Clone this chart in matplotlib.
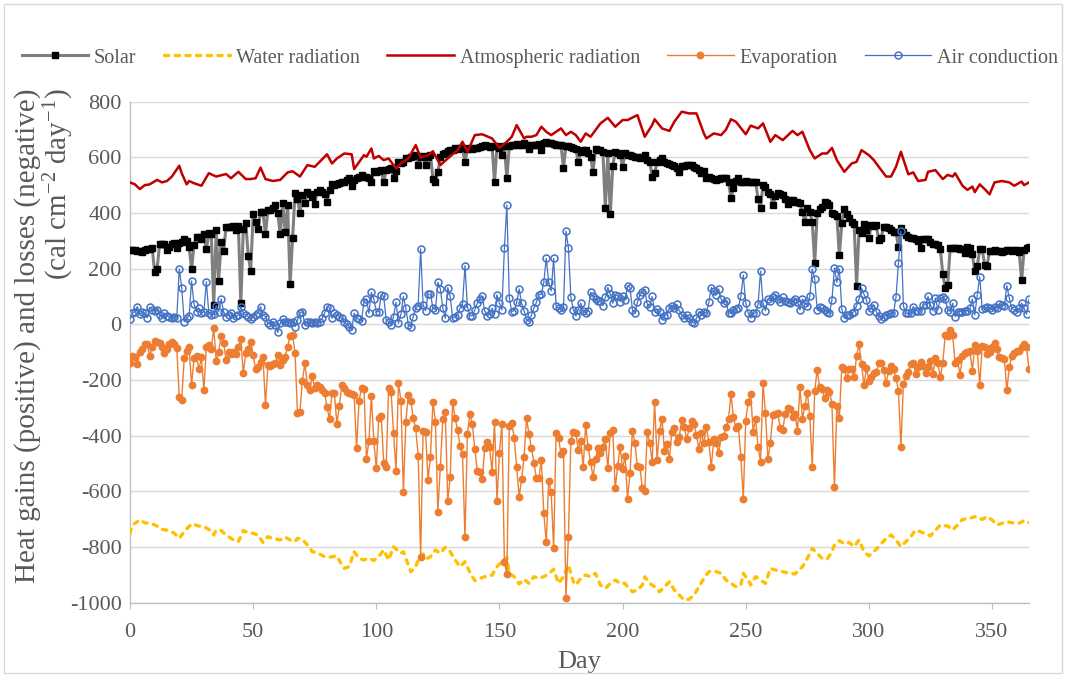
import numpy as np
import matplotlib
matplotlib.use("Agg")
import matplotlib.pyplot as plt
from matplotlib.patches import Rectangle

# ---------------- data ----------------
solar = [
    267, 266, 266, 265, 264, 261, 268, 270, 272, 275,
    189, 199, 287, 289, 289, 267, 279, 287, 291, 275,
    291, 297, 305, 299, 279, 199, 285, 315, 315, 307,
    323, 270, 327, 323, 69, 339, 157, 297, 262, 349,
    349, 349, 355, 339, 355, 76, 343, 365, 247, 193,
    395, 367, 343, 405, 402, 323, 411, 411, 419, 429,
    399, 323, 435, 333, 429, 145, 311, 471, 450, 399,
    465, 435, 477, 468, 459, 431, 477, 483, 475, 467,
    438, 483, 503, 501, 505, 507, 510, 512, 519, 527,
    498, 520, 525, 530, 537, 531, 528, 525, 513, 551,
    549, 552, 554, 510, 554, 558, 563, 527, 551, 584,
    580, 584, 596, 599, 602, 605, 608, 572, 600, 605,
    572, 602, 610, 522, 510, 546, 600, 611, 615, 623,
    625, 628, 632, 630, 635, 633, 584, 630, 632, 630,
    632, 635, 638, 640, 644, 640, 638, 640, 513, 641,
    635, 608, 640, 525, 640, 644, 645, 647, 645, 644,
    650, 645, 630, 644, 645, 646, 647, 626, 650, 656,
    652, 650, 648, 644, 645, 644, 563, 640, 641, 636,
    632, 630, 584, 620, 626, 626, 615, 602, 549, 630,
    628, 626, 620, 417, 614, 395, 570, 620, 615, 608,
    566, 614, 610, 608, 605, 602, 600, 599, 603, 608,
    590, 585, 531, 543, 584, 590, 596, 585, 578, 575,
    572, 568, 563, 546, 569, 570, 572, 571, 572, 565,
    560, 554, 543, 551, 527, 530, 525, 522, 519, 522,
    525, 526, 527, 510, 455, 489, 515, 527, 512, 510,
    515, 512, 510, 512, 513, 450, 417, 501, 495, 477,
    470, 429, 460, 471, 468, 465, 450, 431, 447, 445,
    441, 438, 435, 402, 369, 417, 402, 369, 219, 399,
    415, 423, 441, 435, 429, 399, 395, 390, 249, 363,
    414, 395, 383, 369, 360, 139, 340, 327, 360, 340,
    311, 357, 355, 357, 303, 311, 351, 348, 345, 340,
    333, 330, 279, 345, 330, 321, 315, 311, 309, 307,
    300, 275, 307, 307, 307, 295, 287, 287, 285, 271,
    180, 132, 141, 275, 275, 274, 273, 272, 271, 255,
    279, 275, 251, 191, 210, 269, 271, 213, 210, 265,
    265, 266, 265, 263, 261, 265, 267, 266, 265, 266,
    267, 261, 159, 267, 275, 279,
]

air = [
    19, 40, 46, 64, 36, 46, 40, 24, 61, 52,
    49, 52, 34, 24, 40, 31, 28, 24, 28, 24,
    199, 132, 10, 22, 30, 156, 72, 46, 58, 40,
    45, 153, 40, 34, 36, 67, 46, 91, 46, 28,
    34, 40, 24, 30, 34, 64, 40, 34, 28, 19,
    28, 34, 40, 64, 34, 28, 4, -2, 10, -2,
    -29, 4, 19, 10, 8, 4, 10, -8, 15, 40,
    46, -2, 10, 8, 4, 10, 4, 10, 22, 40,
    64, 58, 22, 40, 34, 28, 22, 10, 0, -8,
    -20, 40, 22, 18, 13, 82, 91, 40, 115, 91,
    46, 45, 106, 100, 16, 10, -2, 28, 79, 4,
    36, 100, 58, -2, -8, 28, 58, 67, 271, 70,
    49, 108, 108, 58, 52, 151, 127, 58, 22, 132,
    100, 22, 28, 34, 58, 72, 211, 64, 31, 31,
    52, 76, 91, 100, 49, 31, 36, 58, 36, 106,
    76, 52, 273, 429, 94, 46, 49, 79, 127, 76,
    49, 16, 10, 34, 58, 79, 106, 108, 151, 237,
    151, 120, 237, 67, 58, 52, 61, 335, 275, 97,
    52, 30, 52, 76, 49, 40, 49, 115, 100, 91,
    84, 84, 67, 97, 132, 108, 76, 106, 103, 82,
    103, 88, 139, 132, 52, 40, 79, 106, 115, 124,
    72, 61, 100, 46, 55, 43, 16, 31, 34, 58,
    67, 58, 72, 50, 34, 24, 34, 22, 10, 4,
    22, 46, 34, 46, 40, 79, 132, 118, 106, 127,
    91, 76, 84, 40, 40, 52, 55, 60, 100, 177,
    76, 40, 22, 40, 40, 72, 191, 76, 49, 91,
    84, 97, 106, 91, 79, 97, 84, 82, 76, 84,
    91, 82, 52, 91, 76, 67, 100, 199, 163, 52,
    61, 58, 52, 46, 40, 88, 203, 151, 199, 55,
    22, 34, 34, 40, 46, 67, 91, 130, 108, 88,
    49, 58, 70, 46, 31, 19, 28, 34, 36, 40,
    40, 97, 222, 335, 67, 40, 40, 40, 64, 49,
    49, 49, 70, 70, 100, 70, 49, 94, 52, 94,
    97, 91, 52, 46, 76, 28, 46, 46, 46, 49,
    49, 58, 91, 34, 106, 171, 55, 58, 61, 58,
    52, 64, 58, 72, 70, 67, 139, 94, 58, 52,
    46, 58, 76, 58, 36, 91,
]

evaporation = [
    -140, -114, -119, -143, -98, -90, -71, -71, -114, -80,
    -59, -62, -68, -83, -102, -90, -71, -62, -71, -86,
    -260, -272, -122, -95, -83, -218, -122, -114, -162, -119,
    -236, -80, -74, -90, -14, -131, -98, -42, -66, -128,
    -98, -107, -100, -107, -80, -54, -176, -102, -90, -62,
    -110, -162, -152, -134, -119, -290, -146, -150, -143, -140,
    -110, -146, -130, -116, -80, -42, -38, -102, -320, -314,
    -202, -140, -218, -236, -186, -230, -218, -224, -235, -248,
    -298, -341, -248, -248, -358, -293, -218, -230, -242, -245,
    -250, -254, -445, -274, -230, -233, -485, -418, -257, -421,
    -517, -338, -329, -497, -511, -230, -242, -389, -526, -210,
    -274, -601, -350, -254, -274, -338, -374, -473, -837, -382,
    -386, -559, -475, -278, -350, -673, -511, -341, -314, -634,
    -550, -278, -338, -380, -437, -466, -765, -394, -322, -358,
    -449, -526, -529, -557, -445, -422, -442, -529, -350, -634,
    -461, -358, -853, -897, -365, -353, -410, -514, -619, -557,
    -475, -338, -394, -445, -497, -553, -553, -487, -679, -784,
    -562, -601, -805, -389, -410, -466, -457, -984, -763, -418,
    -386, -392, -451, -418, -511, -362, -442, -493, -550, -485,
    -445, -461, -440, -413, -517, -389, -380, -589, -509, -440,
    -521, -473, -629, -533, -382, -428, -509, -511, -589, -598,
    -386, -425, -493, -278, -487, -382, -341, -457, -430, -485,
    -386, -374, -422, -404, -344, -368, -413, -374, -346, -358,
    -398, -449, -392, -428, -368, -422, -514, -413, -425, -463,
    -404, -401, -370, -341, -250, -334, -374, -365, -475, -629,
    -346, -278, -250, -386, -341, -442, -493, -212, -320, -485,
    -425, -326, -322, -317, -374, -380, -322, -302, -305, -334,
    -322, -382, -226, -341, -293, -245, -329, -511, -238, -164,
    -226, -233, -266, -236, -242, -286, -586, -293, -338, -152,
    -162, -194, -162, -162, -190, -114, -71, -143, -218, -158,
    -202, -190, -176, -170, -140, -140, -164, -210, -166, -150,
    -162, -194, -238, -440, -214, -186, -170, -143, -140, -178,
    -154, -134, -150, -174, -155, -131, -178, -122, -140, -190,
    -138, -38, -42, -20, -38, -140, -128, -182, -114, -104,
    -98, -95, -166, -74, -95, -218, -78, -83, -107, -98,
    -83, -66, -90, -119, -122, -126, -236, -154, -114, -102,
    -95, -95, -83, -71, -83, -162,
]

atmos_days = [0, 2, 4, 6, 8, 11, 13, 15, 17, 20, 21, 23, 24, 26, 29, 32, 35, 39, 41, 44,
              47, 49, 51, 53, 55, 58, 61, 64, 66, 69, 72, 75, 77, 80, 82, 84, 87, 90, 91, 95,
              96, 98, 99, 101, 103, 105, 108, 110, 113, 116, 118, 121, 123, 126, 129, 133, 135, 137, 140, 143,
              147, 150, 153, 155, 157, 160, 161, 163, 165, 167, 169, 171, 175, 177, 179, 181, 183, 185, 187, 191,
              194, 197, 200, 202, 206, 209, 212, 213, 216, 219, 221, 224, 227, 230, 233, 234, 237, 240, 242, 244,
              246, 250, 252, 255, 257, 260, 262, 265, 269, 271, 273, 276, 278, 281, 283, 285, 287, 290, 293, 295,
              297, 300, 302, 304, 307, 309, 311, 313, 315, 316, 318, 320, 323, 324, 327, 330, 332, 334, 335, 338,
              340, 342, 343, 345, 347, 349, 351, 354, 357, 359, 362, 363, 365]
atmos = [510, 503, 486, 500, 503, 519, 510, 515, 531, 570, 543, 503, 515, 507, 498, 543, 531, 540, 525, 548,
         522, 522, 525, 563, 522, 515, 519, 546, 550, 531, 572, 566, 584, 611, 578, 596, 614, 611, 558, 608,
         602, 632, 596, 605, 590, 596, 560, 578, 596, 644, 599, 608, 622, 572, 596, 626, 656, 620, 680, 683,
         668, 634, 656, 674, 716, 668, 674, 674, 680, 710, 692, 680, 704, 680, 692, 680, 656, 686, 674, 722,
         742, 710, 734, 734, 752, 674, 716, 737, 704, 695, 728, 764, 758, 758, 686, 668, 686, 680, 700, 737,
         728, 683, 714, 704, 722, 656, 680, 662, 695, 680, 692, 626, 596, 614, 614, 634, 590, 548, 578, 584,
         626, 608, 590, 566, 531, 531, 566, 620, 566, 539, 546, 515, 519, 548, 554, 522, 537, 531, 543, 498,
         483, 495, 475, 503, 486, 467, 510, 515, 510, 498, 513, 500, 510]

water_days = [0, 1, 4, 6, 9, 11, 13, 16, 18, 20, 22, 25, 28, 30, 32, 34, 35, 37, 39, 42,
              44, 46, 48, 50, 52, 54, 56, 58, 61, 63, 65, 67, 68, 70, 72, 74, 76, 79, 81, 84,
              85, 87, 89, 91, 93, 95, 97, 99, 101, 103, 105, 107, 110, 111, 113, 114, 116, 117, 119, 120,
              122, 124, 126, 128, 130, 132, 134, 136, 138, 140, 142, 144, 147, 149, 151, 153, 154, 156, 158, 160,
              162, 164, 166, 168, 170, 172, 174, 176, 178, 180, 181, 183, 185, 187, 189, 191, 193, 195, 197, 199,
              201, 202, 204, 206, 208, 209, 211, 213, 215, 217, 219, 221, 223, 225, 227, 229, 231, 233, 235, 237,
              240, 242, 244, 246, 248, 249, 251, 252, 254, 256, 258, 260, 262, 265, 268, 270, 272, 273, 275, 277,
              279, 281, 283, 285, 286, 288, 290, 292, 294, 296, 298, 300, 302, 304, 307, 309, 311, 313, 315, 317,
              319, 322, 325, 327, 329, 332, 334, 336, 338, 341, 343, 346, 348, 350, 352, 354, 356, 358, 361, 363,
              365]
water = [-751, -721, -703, -713, -717, -725, -737, -741, -751, -769, -745, -717, -725, -727, -737, -757, -739, -741, -757, -775,
         -781, -741, -749, -751, -757, -784, -763, -769, -775, -765, -775, -781, -769, -773, -793, -817, -821, -835, -837, -832,
         -849, -877, -871, -817, -841, -847, -841, -849, -835, -811, -847, -799, -823, -817, -865, -889, -871, -847, -825, -844,
         -835, -811, -823, -801, -817, -847, -871, -853, -892, -921, -913, -907, -901, -871, -853, -837, -895, -907, -933, -916,
         -931, -907, -913, -907, -897, -880, -931, -907, -865, -925, -937, -913, -901, -907, -895, -937, -949, -931, -919, -931,
         -931, -943, -961, -955, -937, -907, -931, -943, -961, -943, -925, -955, -973, -991, -988, -973, -943, -913, -889, -886,
         -895, -919, -931, -943, -937, -895, -919, -937, -907, -919, -931, -877, -883, -889, -895, -897, -880, -871, -841, -805,
         -823, -841, -844, -817, -793, -777, -789, -784, -799, -775, -817, -832, -817, -799, -769, -757, -775, -799, -781, -763,
         -739, -749, -760, -741, -721, -725, -739, -721, -701, -697, -691, -701, -691, -703, -721, -715, -709, -713, -715, -705,
         -713]

series_names = ["Solar", "Water radiation", "Atmospheric radiation", "Evaporation", "Air conduction"]
x_ticks = [0, 50, 100, 150, 200, 250, 300, 350]
y_ticks = [-1000, -800, -600, -400, -200, 0, 200, 400, 600, 800]

# ---------------- figure ----------------
plt.rcParams['font.family'] = ['Liberation Serif', 'DejaVu Serif']
plt.rcParams['axes.unicode_minus'] = False
plt.rcParams['mathtext.fontset'] = 'custom'
plt.rcParams['mathtext.rm'] = 'Liberation Serif'
plt.rcParams['mathtext.it'] = 'Liberation Serif:italic'
plt.rcParams['mathtext.default'] = 'regular'

W, H = 1066, 677
fig = plt.figure(figsize=(W / 100, H / 100), dpi=100)
ax = fig.add_axes([130 / W, 1 - 602.6 / H, (1029 - 130) / W, (602.6 - 101.7) / H])

days_s = np.arange(len(solar))
days_a = np.arange(len(air))
days_e = np.arange(len(evaporation))

ax.plot(days_s, solar, color='#7F7F7F', lw=2.2, marker='s', ms=3.9,
        mfc='black', mec='black', label=series_names[0], zorder=3)
ax.plot(water_days, water, color='#FFC000', lw=2.4, linestyle=(0, (1.3, 1.9)),
        dash_capstyle='round', label=series_names[1], zorder=4)
ax.plot(atmos_days, atmos, color='#C00000', lw=1.8, label=series_names[2], zorder=5)
ax.plot(days_e, evaporation, color='#ED7D31', lw=1.0, marker='o', ms=4.6,
        mfc='#ED7D31', mec='#ED7D31', label=series_names[3], zorder=6)
ax.plot(days_a, air, color='#4472C4', lw=0.9, marker='o', ms=5.0, mfc='none',
        mec='#4472C4', mew=1.1, label=series_names[4], zorder=7)

ax.set_xlim(0, 365)
ax.set_ylim(-1000, 800)
ax.set_xticks(x_ticks)
ax.set_yticks(y_ticks)
ax.grid(axis='y', color='#D9D9D9', lw=1.0)
ax.set_axisbelow(True)
for s in ['top', 'right']:
    ax.spines[s].set_visible(False)
ax.spines['left'].set_color('#BFBFBF')
ax.spines['bottom'].set_color('#BFBFBF')
ax.spines['left'].set_linewidth(1.0)
ax.spines['bottom'].set_linewidth(1.0)
ax.tick_params(axis='x', colors='#595959', labelsize=16, length=4, color='#BFBFBF', pad=11)
ax.tick_params(axis='y', colors='#595959', labelsize=16, length=0, pad=6)

ax.set_xlabel("Day", fontsize=19, color='#595959', labelpad=6)
fig.text(45 / W, 1 - 336 / H,
         "Heat gains (positive) and losses (negative)\n(cal cm$^{-2}$ day$^{-1}$)",
         rotation=90, fontsize=21, color='#595959', ha='center', va='center',
         multialignment='right', linespacing=1.0)

fig.legend(loc='center', bbox_to_anchor=(540 / W, 1 - 58 / H), ncol=5, frameon=False,
           fontsize=14.5, handlelength=3.3, handletextpad=0.3, columnspacing=1.35,
           labelcolor='#595959')

fig.patches.append(Rectangle((4 / W, 4 / H), 1 - 8 / W, 1 - 8 / H, transform=fig.transFigure,
                             fill=False, edgecolor='#D9D9D9', lw=1.0))

fig.savefig("out.png", dpi=100)
